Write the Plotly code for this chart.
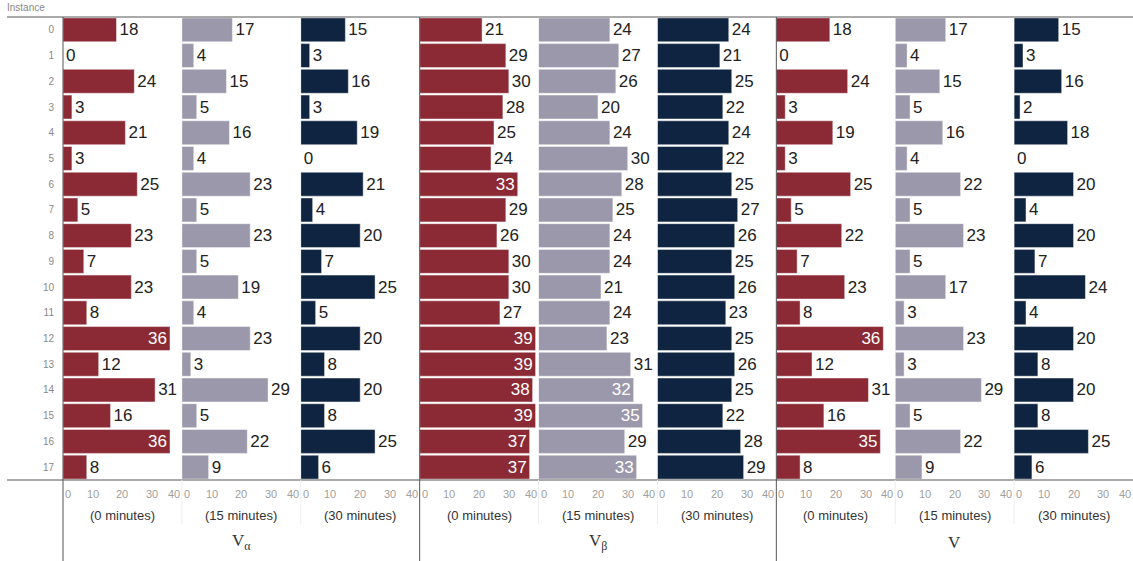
import plotly.graph_objects as go

instances = list(range(18))
groups = ["V<sub>α</sub>", "V<sub>β</sub>", "V"]
times = ["(0 minutes)", "(15 minutes)", "(30 minutes)"]
colors = ["#8B2A35", "#9C98AB", "#0F2440"]
ticks = [0, 10, 20, 30, 40]

va_0 = [18, 0, 24, 3, 21, 3, 25, 5, 23, 7, 23, 8, 36, 12, 31, 16, 36, 8]
va_15 = [17, 4, 15, 5, 16, 4, 23, 5, 23, 5, 19, 4, 23, 3, 29, 5, 22, 9]
va_30 = [15, 3, 16, 3, 19, 0, 21, 4, 20, 7, 25, 5, 20, 8, 20, 8, 25, 6]
vb_0 = [21, 29, 30, 28, 25, 24, 33, 29, 26, 30, 30, 27, 39, 39, 38, 39, 37, 37]
vb_15 = [24, 27, 26, 20, 24, 30, 28, 25, 24, 24, 21, 24, 23, 31, 32, 35, 29, 33]
vb_30 = [24, 21, 25, 22, 24, 22, 25, 27, 26, 25, 26, 23, 25, 26, 25, 22, 28, 29]
v_0 = [18, 0, 24, 3, 19, 3, 25, 5, 22, 7, 23, 8, 36, 12, 31, 16, 35, 8]
v_15 = [17, 4, 15, 5, 16, 4, 22, 5, 23, 5, 17, 3, 23, 3, 29, 5, 22, 9]
v_30 = [15, 3, 16, 2, 18, 0, 20, 4, 20, 7, 24, 4, 20, 8, 20, 8, 25, 6]

series = [va_0, va_15, va_30, vb_0, vb_15, vb_30, v_0, v_15, v_30]

W, H = 1133, 561
ML, MR, MT, MB = 63, 0, 17, 81
PW = W - ML - MR
PH = H - MT - MB
n = 9

fig = go.Figure()
for i, vals in enumerate(series):
    c = colors[i % 3]
    pos = ["inside" if v >= 32 else "outside" for v in vals]
    suffix = "" if i == 0 else str(i + 1)
    fig.add_trace(go.Bar(
        x=vals, y=instances, orientation="h",
        marker=dict(color=c, line=dict(color="rgba(255,255,255,0.45)", width=1)),
        text=[str(v) for v in vals], textposition=pos,
        insidetextanchor="end", textangle=0, constraintext="none",
        insidetextfont=dict(color="white", size=17, family="Arial, Liberation Sans"),
        outsidetextfont=dict(color="#222222", size=17, family="Arial, Liberation Sans"),
        cliponaxis=False, showlegend=False,
        xaxis="x" + suffix, yaxis="y" + suffix,
    ))
    d0 = i / n
    d1 = (i + 1) / n
    fig.layout["xaxis" + suffix] = dict(
        domain=[d0, d1], range=[0, 40], showticklabels=False, showgrid=False,
        zeroline=False, showline=False, ticks="", anchor="y" + suffix, fixedrange=True,
    )
    fig.layout["yaxis" + suffix] = dict(
        domain=[0, 1], autorange="reversed", showgrid=False, zeroline=False,
        showticklabels=(i == 0), tickmode="array", tickvals=instances,
        ticktext=[str(k) for k in instances],
        tickfont=dict(size=10, color="#888888", family="Arial, Liberation Sans"),
        ticks="", ticklabelstandoff=8,
        anchor="x" + suffix, matches=None if i == 0 else "y",
    )
    for t in ticks:
        xa = "left" if t == 0 else ("right" if t == 40 else "center")
        fig.add_annotation(
            x=t, y=-14 / PH, xref="x" + suffix, yref="paper",
            text=str(t), showarrow=False, xanchor=xa, yanchor="middle",
            font=dict(size=11, color="#a0a0a0", family="Arial, Liberation Sans"),
        )
    fig.add_annotation(
        x=(d0 + d1) / 2, y=-35 / PH, xref="paper", yref="paper",
        text=times[i % 3], showarrow=False, xanchor="center", yanchor="middle",
        font=dict(size=13, color="#333333", family="Arial, Liberation Sans"),
    )

for g, name in enumerate(groups):
    fig.add_annotation(
        x=(g * 3 + 1.5) / n, y=-62 / PH, xref="paper", yref="paper",
        text=name, showarrow=False, xanchor="center", yanchor="middle",
        font=dict(size=17, color="#333333", family="Liberation Serif, DejaVu Serif, serif"),
    )

fig.add_annotation(
    x=-58 / PW, y=1 + 2 / PH, xref="paper", yref="paper", text="Instance",
    showarrow=False, xanchor="left", yanchor="bottom",
    font=dict(size=10, color="#888888", family="Arial, Liberation Sans"),
)

line_col = "#555555"
shapes = []
shapes.append(dict(type="line", xref="paper", yref="paper", x0=-56 / PW, x1=1, y0=1, y1=1,
                   line=dict(color=line_col, width=1)))
shapes.append(dict(type="line", xref="paper", yref="paper", x0=-56 / PW, x1=1, y0=0, y1=0,
                   line=dict(color=line_col, width=1)))
for g in range(3):
    shapes.append(dict(type="line", xref="paper", yref="paper", x0=g * 3 / n, x1=g * 3 / n,
                       y0=-MB / PH, y1=1, line=dict(color=line_col, width=1)))
for i in range(1, n):
    if i % 3 != 0:
        shapes.append(dict(type="line", xref="paper", yref="paper", x0=i / n, x1=i / n,
                           y0=-44 / PH, y1=0, line=dict(color="#eeeeee", width=1)))

fig.update_layout(
    width=W, height=H, margin=dict(l=ML, r=MR, t=MT, b=MB),
    plot_bgcolor="white", paper_bgcolor="white",
    bargap=0.07, shapes=shapes,
)

fig.write_html("out.html")
